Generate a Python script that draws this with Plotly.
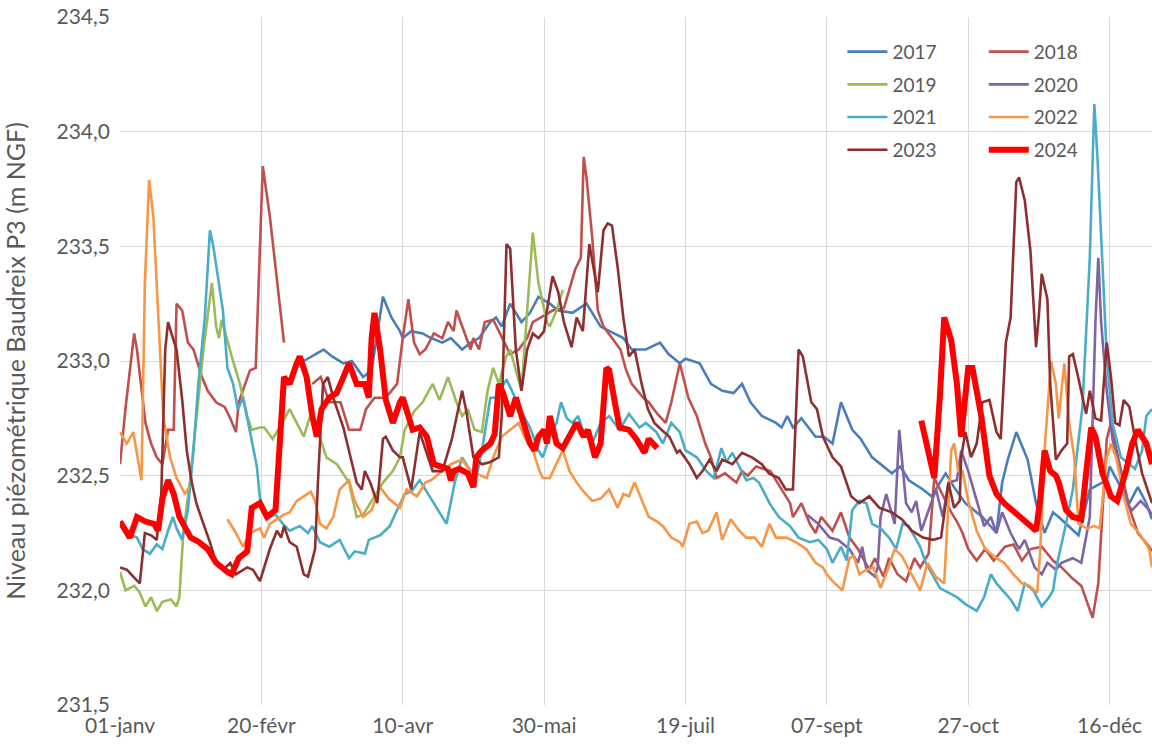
import plotly.graph_objects as go

# axis ticks (day of year -> label)
tick_days = [0, 50, 100, 150, 200, 250, 300, 350]
tick_labels = ["01-janv", "20-févr", "10-avr", "30-mai", "19-juil", "07-sept", "27-oct", "16-déc"]

days_2017 = [65, 68, 72, 75, 79, 82, 86, 89, 93, 96, 99, 100, 103, 107, 110, 114, 117, 121, 124, 127,
             131, 133, 135, 138, 142, 145, 148, 152, 155, 160, 165, 170, 173, 178, 181, 186, 191, 194,
             198, 200, 205, 209, 213, 217, 220, 223, 227, 232, 234, 236, 238, 241, 246, 249, 252, 255,
             259, 262, 266, 270, 273, 276, 279, 284, 287, 292, 295, 299, 305, 310, 312, 314, 317, 321,
             324, 327, 330, 332, 337, 339, 343, 349, 350, 353, 357, 360, 363, 365]
level_2017 = [233.00, 233.02, 233.05, 233.02, 232.99, 233.00, 232.93, 232.96, 233.28, 233.19, 233.13,
              233.10, 233.13, 233.12, 233.10, 233.08, 233.10, 233.05, 233.08, 233.10, 233.17, 233.19,
              233.15, 233.25, 233.17, 233.21, 233.28, 233.25, 233.22, 233.21, 233.25, 233.15, 233.13,
              233.10, 233.05, 233.05, 233.08, 233.03, 232.99, 233.01, 232.99, 232.90, 232.87, 232.86,
              232.90, 232.82, 232.76, 232.73, 232.71, 232.76, 232.71, 232.75, 232.67, 232.67, 232.64,
              232.82, 232.70, 232.66, 232.58, 232.54, 232.51, 232.54, 232.48, 232.44, 232.41, 232.51,
              232.45, 232.38, 232.32, 232.25, 232.47, 232.57, 232.69, 232.57, 232.38, 232.25, 232.34,
              232.32, 232.26, 232.24, 232.44, 232.48, 232.54, 232.47, 232.38, 232.45, 232.38, 232.31]

days_2018 = [0, 2, 5, 6, 9, 11, 13, 15, 17, 19, 20, 22, 24, 26, 29, 31, 34, 37, 39, 41, 42, 46, 48,
             50.5, 53, 55.5, 58, 62, 68, 71, 74, 78, 81, 85, 87, 90, 94, 98, 100, 102, 104, 106, 108,
             111, 114, 116, 118, 119, 124, 125, 127, 129, 132, 134, 138, 141, 144, 146, 149, 153, 157,
             159, 161, 163, 164, 165, 167, 169, 171, 174, 177, 179, 181, 185, 187, 190, 193, 195, 198,
             201, 204, 207, 209, 211, 214, 218, 220, 222, 225, 230, 234, 237, 238, 241, 244, 246, 248,
             252, 255, 258, 261, 265, 267, 270, 272, 275, 278, 281, 283, 286, 288, 290, 294, 296, 298,
             300, 303, 306, 309, 313, 316, 319, 322, 326, 330, 333, 337, 340, 342, 344, 346, 349, 350.5,
             353, 357, 360, 364, 365]
level_2018 = [232.55, 232.80, 233.12, 233.05, 232.73, 232.64, 232.58, 232.55, 232.70, 232.70, 233.25,
              233.22, 233.08, 233.05, 232.93, 232.87, 232.82, 232.80, 232.75, 232.69, 232.82, 232.96,
              232.97, 233.85, 233.63, 233.34, 233.08, None, 232.90, 232.93, 232.82, 232.82, 232.70,
              232.70, 232.79, 232.84, 232.84, 232.90, 233.10, 233.27, 233.08, 233.03, 233.05, 233.12,
              233.10, 233.17, 233.13, 233.22, 233.05, 233.10, 233.05, 233.17, 233.18, 233.13, 233.03,
              233.05, 233.10, 233.17, 233.19, 233.22, 233.23, 233.31, 233.40, 233.45, 233.89, 233.80,
              233.54, 233.22, 233.15, 233.10, 233.05, 232.96, 232.90, 232.84, 232.82, 232.77, 232.73,
              232.82, 232.99, 232.84, 232.76, 232.64, 232.58, 232.49, 232.51, 232.47, 232.52, 232.50,
              232.54, 232.52, 232.44, 232.38, 232.32, 232.38, 232.29, 232.25, 232.32, 232.26, 232.34,
              232.23, 232.18, 232.09, 232.14, 232.06, 232.14, 232.07, 232.04, 232.14, 232.10, 232.16,
              232.49, 232.44, 232.34, 232.30, 232.25, 232.18, 232.13, 232.18, 232.13, 232.19, 232.20,
              232.13, 232.18, 232.19, 232.13, 232.10, 232.05, 232.02, 231.95, 231.88, 232.03, 232.66,
              232.73, 232.58, 232.36, 232.25, 232.19, 232.17]

days_2019 = [0, 2, 5, 7, 9, 11, 13, 15, 18, 20, 21, 22.4, 24.7, 27, 29.5, 32.5, 34, 35, 36, 39.5, 42.4,
             45, 46.6, 49.5, 51, 54, 56, 60, 63.6, 65, 67, 69, 71.4, 73, 76.7, 79, 81, 83.7, 86, 90,
             93, 96.5, 99, 100.7, 104, 107, 110.6, 113, 116, 119, 121, 123, 125.4, 128, 130, 132, 134,
             136.6, 138, 142, 144, 146, 148, 151, 152, 154.4, 156.6]
level_2019 = [232.08, 232.00, 232.02, 231.99, 231.93, 231.97, 231.91, 231.95, 231.96, 231.93, 231.97,
              232.25, 232.47, 232.76, 233.05, 233.34, 233.15, 233.10, 233.18, 233.02, 232.90, 232.76,
              232.70, 232.71, 232.71, 232.66, 232.70, 232.79, 232.70, 232.67, 232.75, 232.73, 232.64,
              232.58, 232.55, 232.51, 232.47, 232.32, 232.33, 232.41, 232.47, 232.52, 232.58, 232.70,
              232.78, 232.82, 232.90, 232.83, 232.93, 232.82, 232.76, 232.79, 232.70, 232.69, 232.87,
              232.97, 232.90, 233.02, 233.05, 232.87, 233.20, 233.56, 233.34, 233.17, 233.15, 233.22,
              233.31]

days_2020 = [243, 247, 251, 254, 258, 261, 262.5, 264, 267, 268, 269, 271, 274, 275.6, 278, 280, 281.6,
             283.4, 286, 288.6, 291, 293, 296, 297.5, 300, 303, 305.6, 308, 310, 312, 315, 318, 320,
             323.5, 326, 328, 331, 333, 337, 340, 343, 345, 346, 347, 349, 351, 354, 356, 358, 361,
             364, 365]
level_2020 = [232.33, 232.29, 232.23, 232.22, 232.18, 232.12, 232.19, 232.09, 232.06, 232.10, 232.32,
              232.42, 232.29, 232.70, 232.38, 232.34, 232.39, 232.26, 232.35, 232.44, 232.32, 232.47,
              232.48, 232.61, 232.52, 232.39, 232.28, 232.32, 232.25, 232.34, 232.25, 232.18, 232.22,
              232.10, 232.07, 232.12, 232.09, 232.12, 232.14, 232.12, 232.32, 233.17, 233.45, 233.17,
              232.87, 232.66, 232.51, 232.38, 232.35, 232.39, 232.35, 232.33]

days_2021 = [2, 6, 8, 10.6, 13, 15, 17, 18.7, 20, 22, 24, 26, 27.7, 30, 31.8, 33, 34.6, 36.4, 38, 40,
             41.7, 43.5, 46, 48.4, 49.5, 51, 53, 55, 57.6, 60, 63.6, 66.5, 68, 70.7, 74, 77.7, 81, 83,
             86.6, 88, 92, 95.4, 98, 100.7, 103, 106, 109.5, 112.4, 115.5, 118.4, 121, 123, 126, 128,
             131, 133, 136.7, 139, 141, 145, 148, 149.5, 152, 154.4, 156, 158, 160, 162, 164, 167, 170,
             173, 176.7, 180, 183.7, 186, 189.7, 192, 195, 198, 200, 204, 207.4, 210, 212.7, 214.5,
             216.6, 219, 221.5, 224, 226, 229.7, 233, 237, 240, 244, 247, 250, 252, 255, 257, 259,
             261.5, 264, 266, 269, 272, 274.5, 276.8, 279, 283, 285, 287.6, 290, 293, 296, 299, 303,
             305.6, 308, 310, 312.7, 315, 317.5, 320, 323, 326, 328.6, 330, 331.5, 334.6, 337, 338.7,
             340.4, 343, 344.6, 345.7, 347.4, 349, 351, 354, 357, 359, 361.5, 363, 365]
level_2021 = [232.25, 232.23, 232.18, 232.16, 232.20, 232.18, 232.26, 232.32, 232.27, 232.22, 232.35,
              232.61, 232.90, 233.19, 233.57, 233.50, 233.37, 233.22, 232.97, 232.90, 232.79, 232.84,
              232.69, 232.54, 232.40, 232.34, 232.32, 232.33, 232.29, 232.26, 232.28, 232.25, 232.28,
              232.21, 232.19, 232.22, 232.14, 232.17, 232.16, 232.22, 232.24, 232.28, 232.35, 232.42,
              232.43, 232.48, 232.41, 232.35, 232.29, 232.47, 232.58, 232.54, 232.49, 232.61, 232.84,
              232.84, 232.92, 232.86, 232.80, 232.71, 232.61, 232.58, 232.67, 232.73, 232.82, 232.75,
              232.73, 232.76, 232.69, 232.64, 232.73, 232.76, 232.70, 232.77, 232.71, 232.73, 232.69,
              232.64, 232.73, 232.69, 232.61, 232.58, 232.52, 232.49, 232.62, 232.56, 232.60, 232.54,
              232.48, 232.49, 232.47, 232.38, 232.32, 232.28, 232.23, 232.21, 232.22, 232.18, 232.12,
              232.19, 232.13, 232.35, 232.39, 232.38, 232.29, 232.27, 232.23, 232.18, 232.29, 232.28,
              232.19, 232.12, 232.06, 232.01, 231.99, 231.97, 231.94, 231.91, 231.97, 232.07, 232.03,
              231.99, 231.96, 231.91, 232.03, 232.00, 231.93, 231.97, 232.00, 232.12, 232.29, 232.44,
              232.61, 232.80, 233.45, 234.12, 233.89, 233.45, 233.02, 232.73, 232.58, 232.55, 232.53,
              232.61, 232.76, 232.79]

days_2022 = [0, 2.4, 4.7, 7.6, 8.8, 10.3, 11.8, 13.5, 15.3, 17.7, 20, 23, 24.5, 30, 38, 41, 43.5, 46,
             49.5, 51, 53, 56.5, 58, 60, 62.5, 65, 67.5, 69, 70.7, 73, 75.4, 77.7, 81, 83, 86, 89, 92,
             95, 99, 101.4, 105, 108, 110, 114, 117, 121, 124, 129.7, 132, 135, 138, 141, 143, 146,
             148.4, 149.5, 152, 154.4, 156.6, 159, 161.5, 164, 167, 170, 173, 176, 178, 180, 182, 185,
             187, 190, 192, 195, 198, 199, 201.4, 204, 206, 208, 211, 213, 216, 219, 221.5, 224.5,
             227, 229.7, 232, 235.7, 239, 242.7, 246, 248.6, 250, 252, 255.5, 258, 259.5, 261.5, 264,
             266.5, 269, 271.5, 274, 276.5, 279, 283, 285.6, 288.5, 291.5, 294, 295, 296.5, 298, 300,
             303, 306, 310, 312.7, 316, 319, 321.5, 324.4, 325.5, 327, 329.3, 331, 332, 334, 335.7,
             337.5, 339, 342, 344.6, 346.5, 349, 350.5, 352.5, 355, 357.5, 360.4, 364, 365]
level_2022 = [232.69, 232.64, 232.69, 232.48, 233.34, 233.79, 233.63, 233.19, 232.76, 232.58, 232.49,
              232.42, 232.45, None, 232.31, 232.25, 232.19, 232.25, 232.27, 232.23, 232.29, 232.32,
              232.33, 232.34, 232.39, 232.41, 232.43, 232.39, 232.29, 232.27, 232.32, 232.44, 232.48,
              232.39, 232.32, 232.35, 232.45, 232.40, 232.36, 232.44, 232.41, 232.47, 232.48, 232.52,
              232.55, 232.57, 232.52, 232.49, 232.58, 232.67, 232.70, 232.73, 232.67, 232.61, 232.52,
              232.49, 232.49, 232.55, 232.61, 232.52, 232.47, 232.43, 232.39, 232.40, 232.44, 232.36,
              232.42, 232.41, 232.47, 232.38, 232.32, 232.30, 232.28, 232.23, 232.21, 232.19, 232.29,
              232.30, 232.25, 232.26, 232.34, 232.22, 232.31, 232.26, 232.23, 232.23, 232.19, 232.29,
              232.23, 232.23, 232.21, 232.18, 232.12, 232.10, 232.07, 232.04, 232.00, 232.14, 232.15,
              232.07, 232.09, 232.10, 232.01, 232.09, 232.18, 232.15, 232.09, 232.00, 232.12, 232.06,
              232.03, 232.61, 232.64, 232.52, 232.52, 232.39, 232.26, 232.18, 232.14, 232.12, 232.07,
              232.03, 232.02, 231.99, 232.18, 232.61, 233.00, 232.90, 232.75, 232.99, 232.73, 232.58,
              232.29, 232.27, 232.28, 232.27, 232.58, 232.64, 232.57, 232.41, 232.29, 232.25, 232.18,
              232.10]

days_2023 = [0, 2.4, 4.7, 7, 8.8, 11, 13, 14.6, 16, 17, 18.7, 20, 22, 23.6, 25.4, 27, 29.5, 31.8, 34,
             36.5, 39, 41, 45, 47, 49.5, 53, 55.5, 57, 58, 60, 62.5, 65, 66.5, 69, 70, 71.8, 73.5,
             75.4, 79, 81, 83.7, 85.5, 86.6, 88.5, 91, 93, 94, 96.5, 99, 100, 103, 106, 108.5, 110.6,
             114, 117.4, 121, 122.5, 125, 128, 131, 134, 135, 136.7, 138, 140, 142, 144, 146, 148,
             150, 151, 153, 155, 157, 159.7, 161.5, 163.7, 166, 167.5, 169, 171, 172.5, 174, 176, 178,
             180, 182, 184.5, 186.7, 189, 191.5, 194.3, 197, 198, 201.4, 204, 206, 208.5, 211, 213,
             216.6, 220, 223.5, 227, 229.5, 233, 235.5, 238, 240, 241.5, 244.5, 246.5, 248.6, 252,
             255, 258.6, 261.5, 265, 268.6, 273, 276.5, 280, 284, 287.6, 290.4, 293, 295, 297, 297.5,
             299, 301, 303, 305, 307.5, 310, 311.5, 313.3, 315, 317, 318, 320, 322, 324, 325, 326, 328,
             329, 331, 333, 335, 335.7, 337, 338.7, 340.4, 341.7, 343, 345, 347, 349, 350.5, 352,
             353.5, 355, 357, 359, 361.5, 365]
level_2023 = [232.10, 232.09, 232.06, 232.03, 232.25, 232.24, 232.22, 232.42, 233.05, 233.17, 233.10,
              233.05, 232.83, 232.61, 232.47, 232.38, 232.29, 232.21, 232.12, 232.09, 232.12, 232.07,
              232.10, 232.09, 232.04, 232.18, 232.26, 232.23, 232.28, 232.21, 232.19, 232.07, 232.06,
              232.18, 232.47, 232.90, 232.93, 232.84, 232.71, 232.61, 232.47, 232.44, 232.52, 232.47,
              232.38, 232.66, 232.67, 232.61, 232.58, 232.58, 232.44, 232.69, 232.60, 232.52, 232.52,
              232.66, 232.87, 232.78, 232.58, 232.55, 232.56, 232.58, 232.76, 233.51, 233.49, 233.05,
              232.87, 233.05, 233.12, 233.10, 233.13, 233.22, 233.37, 233.30, 233.17, 233.06, 233.19,
              233.13, 233.51, 233.40, 233.30, 233.57, 233.60, 233.59, 233.41, 233.19, 233.02, 233.05,
              232.90, 232.79, 232.73, 232.70, 232.67, 232.60, 232.61, 232.55, 232.49, 232.52, 232.57,
              232.52, 232.57, 232.55, 232.60, 232.58, 232.55, 232.51, 232.49, 232.44, 232.44, 233.05,
              233.02, 232.82, 232.79, 232.67, 232.58, 232.54, 232.41, 232.38, 232.41, 232.36, 232.34,
              232.31, 232.26, 232.23, 232.22, 232.23, 232.47, 232.36, 232.39, 232.58, 232.69, 232.58,
              232.64, 232.82, 232.83, 232.69, 232.66, 233.08, 233.19, 233.78, 233.80, 233.70, 233.48,
              233.06, 233.20, 233.38, 233.27, 232.90, 232.57, 232.61, 232.64, 233.02, 233.03, 232.94,
              232.84, 232.77, 232.87, 232.75, 232.74, 233.08, 232.93, 232.73, 232.72, 232.83, 232.80,
              232.66, 232.51, 232.38]

days_2024 = [0, 3.5, 6, 9, 12, 13.5, 15, 17, 19, 21, 25, 28, 31, 34, 38, 39.5, 42, 45, 46.6, 49.5, 52,
             55, 58, 60, 62.5, 63.6, 66, 68, 69.6, 71.3, 74, 76.6, 79, 81, 83.7, 86.6, 88, 89, 90, 92,
             94, 96.5, 99, 100, 101.5, 103.5, 106, 108.5, 111, 114, 116, 117, 118, 120, 123, 125, 126,
             128, 131, 132.5, 134, 135.5, 138, 140, 142.6, 145, 146.6, 148, 150, 151, 152, 154.4,
             156.6, 159, 161.5, 164, 165.5, 168, 170, 172, 173, 175, 176.7, 180, 182.6, 185.5, 187,
             190, 237, 283.4, 286, 288, 290, 291.5, 294, 296, 297.5, 299, 300, 301.5, 304.6, 307.5,
             310, 312.7, 315.5, 318, 321.6, 324, 325.5, 327, 329, 331, 332, 334.6, 337, 340, 341.7,
             343.5, 345, 347.5, 350.5, 352.7, 355.8, 358, 360, 363, 365]
level_2024 = [232.30, 232.23, 232.32, 232.30, 232.29, 232.26, 232.40, 232.48, 232.42, 232.32, 232.23,
              232.21, 232.18, 232.12, 232.08, 232.07, 232.14, 232.17, 232.36, 232.38, 232.32, 232.35,
              232.93, 232.90, 232.99, 233.02, 232.93, 232.76, 232.67, 232.79, 232.84, 232.86, 232.93,
              232.99, 232.90, 232.90, 232.84, 233.10, 233.21, 233.05, 232.83, 232.73, 232.82, 232.84,
              232.78, 232.70, 232.71, 232.67, 232.55, 232.54, 232.53, 232.48, 232.52, 232.53, 232.51,
              232.45, 232.58, 232.61, 232.64, 232.68, 232.90, 232.86, 232.76, 232.84, 232.73, 232.64,
              232.61, 232.67, 232.70, 232.64, 232.76, 232.64, 232.62, 232.68, 232.73, 232.67, 232.70,
              232.58, 232.64, 232.97, 232.96, 232.82, 232.71, 232.70, 232.66, 232.60, 232.66, 232.62,
              None, 232.74, 232.60, 232.49, 232.85, 233.19, 233.09, 232.90, 232.67, 232.85, 232.97,
              232.97, 232.76, 232.50, 232.42, 232.38, 232.35, 232.32, 232.29, 232.26, 232.40, 232.61,
              232.52, 232.50, 232.47, 232.35, 232.32, 232.31, 232.51, 232.71, 232.67, 232.51, 232.41,
              232.39, 232.52, 232.64, 232.70, 232.64, 232.55]

FONT = "Lato"
TEXT_COLOR = "#595959"

# name, days, levels, colour, width, legend column
series = [
    ("2017", days_2017, level_2017, "#4A7EBB", 2.6, "legend"),
    ("2018", days_2018, level_2018, "#C0504D", 2.6, "legend2"),
    ("2019", days_2019, level_2019, "#9BBB59", 2.6, "legend"),
    ("2020", days_2020, level_2020, "#8064A2", 2.6, "legend2"),
    ("2021", days_2021, level_2021, "#4BACC6", 2.6, "legend"),
    ("2022", days_2022, level_2022, "#F79646", 2.6, "legend2"),
    ("2023", days_2023, level_2023, "#8E2F2F", 2.6, "legend"),
    ("2024", days_2024, level_2024, "#FF0000", 6, "legend2"),
]

fig = go.Figure()
for name, days, levels, color, width, legend in series:
    fig.add_trace(
        go.Scatter(
            x=days,
            y=levels,
            name=name,
            mode="lines",
            line=dict(color=color, width=width),
            connectgaps=False,
            legend=legend,
            legendgroup=name,
        )
    )

legend_style = dict(
    xanchor="left",
    yanchor="top",
    y=0.977,
    bgcolor="rgba(0,0,0,0)",
    font=dict(family=FONT, size=19, color=TEXT_COLOR),
    tracegroupgap=5,
    itemwidth=40,
)

fig.update_layout(
    width=1152,
    height=753,
    margin=dict(l=120, r=0, t=17, b=48),
    plot_bgcolor="white",
    paper_bgcolor="white",
    separators=", ",
    font=dict(family=FONT, size=21, color=TEXT_COLOR),
    legend=dict(x=0.700, **legend_style),
    legend2=dict(x=0.837, **legend_style),
    xaxis=dict(
        range=[0, 365],
        tickvals=tick_days,
        ticktext=tick_labels,
        showgrid=True,
        gridcolor="#d9d9d9",
        gridwidth=1,
        zeroline=False,
        showline=False,
        ticks="",
        ticklabelstandoff=6,
        ticklabeloverflow="allow",
        automargin=False,
    ),
    yaxis=dict(
        range=[231.5, 234.5],
        dtick=0.5,
        tickformat=".1f",
        showgrid=True,
        gridcolor="#d9d9d9",
        gridwidth=1,
        zeroline=False,
        showline=False,
        ticks="",
        ticklabelstandoff=9,
        ticklabeloverflow="allow",
        automargin=False,
        title=dict(
            text="Niveau piézométrique Baudreix P3 (m NGF)",
            font=dict(family=FONT, size=25, color=TEXT_COLOR),
            standoff=24,
        ),
    ),
)

# drop the default 8px page margin so the figure fills the window exactly
fig.write_html(
    "out.html",
    config={"displayModeBar": False},
    post_script="document.body.style.margin = '0';",
)
